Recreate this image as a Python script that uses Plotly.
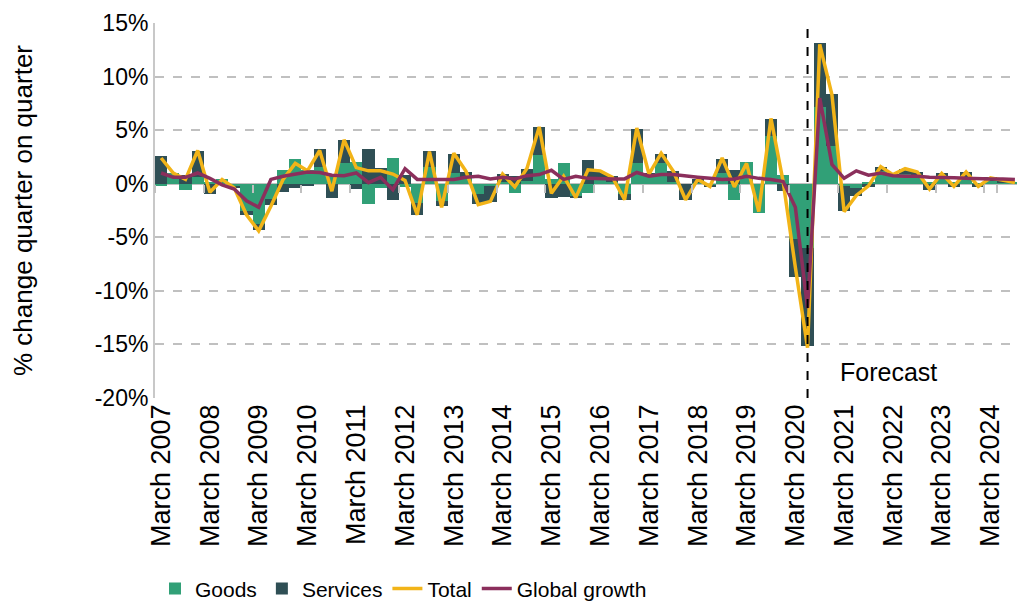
import plotly.graph_objects as go

# Quarterly categories, March 2007 to September 2024
months = ["March", "June", "September", "December"]
quarters = [f"{m} {y}" for y in range(2007, 2025) for m in months][:71]

goods = [-0.2, 1.0, -0.6, 0.6, 0.2, 0.4, -0.3, -2.5, -3.8, -1.4,
         1.3, 2.3, 1.3, 1.6, 0.7, 1.9, 2.0, -1.9, -0.4, 2.4,
         -0.3, -1.8, 1.6, -1.6, 1.0, 0.6, -1.0, -0.2, 0.2, -0.9,
         0.3, 2.7, 0.4, 1.9, -1.2, -0.9, 0.5, 0.2, -1.0, 1.9,
         0.9, 1.9, 0.2, 0.0, 0.1, -0.2, 1.0, -1.5, 2.0, -2.7,
         4.5, 0.8, -5.2, -6.0, 7.2, 3.5, -0.2, -0.4, 0.2, 1.15,
         0.8, 0.9, 0.7, 0.1, 0.5, 0.1, 0.6, 0.05, 0.3, 0.1, 0.1]

services = [2.6, 0.0, 0.8, 2.5, -1.0, 0.0, -0.1, -0.4, -0.5, -0.6,
            -0.8, -0.4, -0.2, 1.6, -1.3, 2.2, -0.5, 3.2, 1.5, -1.5,
            0.8, -1.1, 1.5, -0.5, 1.8, 0.5, -0.9, -1.5, 0.7, 0.7,
            1.1, 2.6, -1.3, -1.2, -0.1, 2.2, 0.6, 0.5, -0.5, 3.2,
            0.1, 0.9, 1.0, -1.5, 0.3, -0.05, 1.3, 1.3, 0.0, 0.0,
            1.5, -0.7, -3.5, -9.1, 5.9, 4.9, -2.3, -0.7, -0.3, 0.45,
            0.1, 0.5, 0.4, -0.6, 0.5, -0.3, 0.5, -0.3, 0.3, 0.1, 0.0]

total = [2.4, 1.0, 0.4, 3.1, -0.8, 0.4, -0.4, -2.9, -4.4, -2.1,
         0.4, 1.9, 1.2, 3.1, -0.7, 4.1, 1.5, 1.2, 1.2, 0.9,
         0.3, -2.9, 3.0, -2.2, 2.85, 1.15, -1.95, -1.65, 0.9, -0.3,
         1.45, 5.3, -0.9, 0.7, -1.3, 1.3, 1.2, 0.6, -1.5, 5.2,
         0.9, 2.85, 1.15, -1.5, 0.4, -0.25, 2.4, -0.3, 1.9, -2.6,
         6.1, 0.2, -7.8, -15.3, 13.0, 8.3, -2.6, -1.1, -0.2, 1.6,
         0.85, 1.4, 1.1, -0.5, 0.95, -0.25, 1.1, -0.25, 0.55, 0.3, 0.1]

global_growth = [1.0, 0.6, 0.6, 1.0, 0.5, -0.1, -0.5, -1.6, -2.2, 0.4,
                 0.7, 0.9, 1.1, 1.05, 0.8, 0.75, 1.0, 0.1, 0.6, -0.55,
                 1.4, 0.4, 0.4, 0.35, 0.4, 0.6, 0.7, 0.45, 0.6, 0.45,
                 0.75, 0.85, 1.25, 0.4, 0.7, 0.5, 0.45, 0.45, 0.45, 1.05,
                 0.7, 0.85, 0.85, 0.7, 0.6, 0.5, 0.4, 0.45, 0.7, 0.5,
                 0.4, 0.2, -2.2, -11.6, 8.0, 1.8, 0.5, 1.2, 0.8, 1.0,
                 0.75, 0.7, 0.7, 0.6, 0.6, 0.55, 0.5, 0.45, 0.45, 0.45, 0.4]

year_ticks = [q for q in quarters if q.startswith("March")]
y_ticks = [15, 10, 5, 0, -5, -10, -15, -20]
y_labels = ["15%", "10%", "5%", "0%", "-5%", "-10%", "-15%", "-20%"]
y_range = [-20, 15]
forecast_start = "June 2020"

font_main = "Liberation Sans, Arial, sans-serif"

fig = go.Figure()
fig.add_trace(go.Bar(x=quarters, y=goods, name="Goods", marker_color="#31A077",
                     marker_line=dict(width=0)))
fig.add_trace(go.Bar(x=quarters, y=services, name="Services", marker_color="#2F4F55",
                     marker_line=dict(width=0)))
fig.add_trace(go.Scatter(x=quarters, y=total, name="Total", mode="lines",
                         line=dict(color="#F2B418", width=3.5)))
fig.add_trace(go.Scatter(x=quarters, y=global_growth, name="Global growth", mode="lines",
                         line=dict(color="#8B2F5C", width=3.5)))
# empty trace so the tick axis sitting on the zero line gets drawn
fig.add_trace(go.Scatter(x=quarters, y=[None] * len(quarters), xaxis="x2",
                         showlegend=False, hoverinfo="skip"))

# Forecast marker
fig.add_shape(type="line", xref="x", yref="paper", x0=forecast_start, x1=forecast_start,
              y0=0, y1=1, line=dict(color="black", width=2, dash="dash"))
fig.add_annotation(x=forecast_start, y=-17.6, xref="x", yref="y", text="Forecast",
                   showarrow=False, xanchor="left", xshift=30,
                   font=dict(size=25, color="black", family=font_main))

# the page adds an 8px body margin, so left/top margins are trimmed by 8px
fig.update_layout(
    width=1025, height=602,
    barmode="relative",
    bargap=0,
    plot_bgcolor="white",
    paper_bgcolor="white",
    font=dict(family=font_main, color="black"),
    margin=dict(l=147, r=12, t=15, b=212),
    showlegend=True,
    legend=dict(orientation="h", x=0.0, xanchor="left",
                yref="container", y=0.035, yanchor="middle",
                font=dict(size=21),
                itemwidth=30, traceorder="normal"),
    xaxis=dict(
        type="category", automargin=False,
        range=[-0.5, len(quarters) - 0.5],
        tickmode="array", tickvals=year_ticks, ticktext=year_ticks,
        tickangle=-90, tickfont=dict(size=27, color="black"),
        showgrid=False, showline=False, ticks="",
    ),
    xaxis2=dict(
        type="category", overlaying="x", matches="x", automargin=False,
        anchor="free", position=(0 - y_range[0]) / (y_range[1] - y_range[0]),
        tickmode="array", tickvals=year_ticks, tickson="boundaries",
        ticks="outside", ticklen=8, tickwidth=2, tickcolor="#C0C0C0",
        showticklabels=False, showgrid=False, showline=False,
    ),
    yaxis=dict(
        range=y_range, automargin=False,
        tickmode="array", tickvals=y_ticks, ticktext=y_labels,
        tickfont=dict(size=23, color="black"),
        showgrid=True, gridcolor="#C0C0C0", gridwidth=1.5, griddash="dash",
        zeroline=True, zerolinecolor="#C0C0C0", zerolinewidth=2,
        showline=True, linecolor="#C8C8C8", linewidth=2,
        title=dict(text="% change quarter on quarter", font=dict(size=26, color="black"),
                   standoff=58),
    ),
)

fig.write_html("out.html")
